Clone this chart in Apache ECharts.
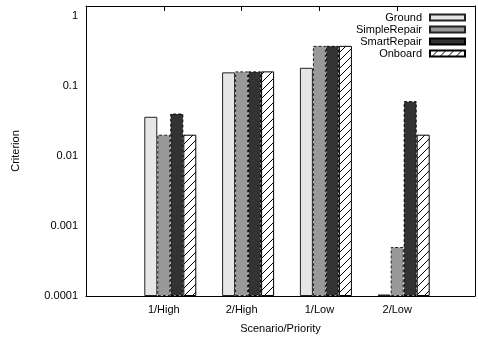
<!DOCTYPE html>
<html>
<head>
<meta charset="utf-8">
<script src="https://cdn.jsdelivr.net/npm/echarts@6/dist/echarts.min.js"></script>
<style>
  html, body { margin: 0; padding: 0; background: #fff; }
  #chart { width: 478px; height: 339px; }
</style>
</head>
<body>
<div id="chart"></div>
<script>
// categories (blank slots at both ends give the -1..4 x range)
var categories = ['', '1/High', '2/High', '1/Low', '2/Low', ''];
var ground      = [null, 0.036, 0.155, 0.18, 0.000105, null];
var simpleRepair = [null, 0.02, 0.16, 0.37, 0.0005, null];
var smartRepair  = [null, 0.04, 0.16, 0.37, 0.06, null];
var onboard      = [null, 0.02, 0.16, 0.37, 0.02, null];
var yTicks = [0.0001, 0.0002, 0.0005, 0.001, 0.002, 0.005, 0.01, 0.02, 0.05, 0.1, 0.2, 0.5, 1];

// diagonal hatch for the Onboard bars
function hatch() {
    var c = document.createElement('canvas');
    c.width = 8; c.height = 8;
    var ctx = c.getContext('2d');
    ctx.fillStyle = '#fff';
    ctx.fillRect(0, 0, 8, 8);
    ctx.strokeStyle = '#000';
    ctx.lineWidth = 1;
    ctx.beginPath();
    ctx.moveTo(-1, 9); ctx.lineTo(9, -1);
    ctx.moveTo(-1, 1); ctx.lineTo(1, -1);
    ctx.moveTo(7, 9); ctx.lineTo(9, 7);
    ctx.stroke();
    return c;
}

var font = 'Liberation Sans';
var myChart = echarts.init(document.getElementById('chart'));

var option = {
    animation: false,
    textStyle: { fontFamily: font },
    grid: { left: 86, right: -2, top: 6, bottom: 41 },
    legend: {
        orient: 'vertical',
        align: 'right',
        right: 12,
        top: 12,
        padding: 0,
        icon: 'rect',
        itemWidth: 35,
        itemHeight: 6,
        itemGap: 1,
        textStyle: { fontFamily: font, fontSize: 11, color: '#000', padding: [0, 3, 0, 0] },
        data: ['Ground', 'SimpleRepair', 'SmartRepair', 'Onboard']
    },
    xAxis: [
        {
            type: 'category',
            data: categories,
            boundaryGap: false,
            position: 'bottom',
            name: 'Scenario/Priority',
            nameLocation: 'middle',
            nameGap: 27,
            nameTextStyle: { fontFamily: font, fontSize: 11, color: '#000' },
            axisLine: { lineStyle: { color: '#000', width: 1 } },
            axisTick: { inside: true, length: 5, interval: 0, lineStyle: { color: '#000' } },
            axisLabel: { interval: 0, margin: 8, fontSize: 11, color: '#000', fontFamily: font },
            splitLine: { show: false }
        },
        {
            type: 'category',
            data: categories,
            boundaryGap: false,
            position: 'top',
            axisLine: { lineStyle: { color: '#000', width: 1 } },
            axisTick: { inside: true, length: 5, interval: 0, lineStyle: { color: '#000' } },
            axisLabel: { show: false },
            splitLine: { show: false }
        }
    ],
    yAxis: [
        {
            type: 'log',
            logBase: 10,
            min: 0.0001,
            max: 1.37,
            startValue: 0.0001,
            position: 'left',
            name: 'Criterion',
            nameLocation: 'middle',
            nameGap: 65,
            nameTextStyle: { fontFamily: font, fontSize: 11, color: '#000' },
            axisLine: { show: true, lineStyle: { color: '#000', width: 1 } },
            axisTick: { inside: true, length: 4, customValues: yTicks, lineStyle: { color: '#000' } },
            axisLabel: {
                margin: 8, fontSize: 11, color: '#000', fontFamily: font,
                formatter: function (v) {
                    var e = Math.log10(v);
                    return Math.abs(e - Math.round(e)) < 1e-6 ? String(v) : '';
                }
            },
            splitLine: { show: false }
        },
        {
            type: 'log',
            logBase: 10,
            min: 0.0001,
            max: 1.37,
            position: 'right',
            axisLine: { show: true, lineStyle: { color: '#000', width: 1 } },
            axisTick: { inside: true, length: 4, customValues: yTicks, lineStyle: { color: '#000' } },
            axisLabel: { show: false },
            splitLine: { show: false }
        }
    ],
    series: [
        // empty slot so the four bars sit half a bar right of the tick
        { name: 'pad', type: 'bar', barWidth: 13, barGap: '0%', data: [], itemStyle: { color: 'rgba(0,0,0,0)' } },
        {
            name: 'Ground', type: 'bar', barWidth: 13, barGap: '0%', data: ground,
            itemStyle: { color: '#e6e6e6', borderColor: '#222', borderWidth: 1 }
        },
        {
            name: 'SimpleRepair', type: 'bar', barWidth: 13, barGap: '0%', data: simpleRepair,
            itemStyle: { color: '#999999', borderColor: '#222', borderWidth: 1, borderType: [3, 2] }
        },
        {
            name: 'SmartRepair', type: 'bar', barWidth: 13, barGap: '0%', data: smartRepair,
            itemStyle: { color: '#333333', borderColor: '#000', borderWidth: 1, borderType: [3, 2] }
        },
        {
            name: 'Onboard', type: 'bar', barWidth: 13, barGap: '0%', data: onboard,
            itemStyle: { color: { image: hatch(), repeat: 'repeat' }, borderColor: '#000', borderWidth: 1 }
        }
    ]
};

myChart.setOption(option);
</script>
</body>
</html>
